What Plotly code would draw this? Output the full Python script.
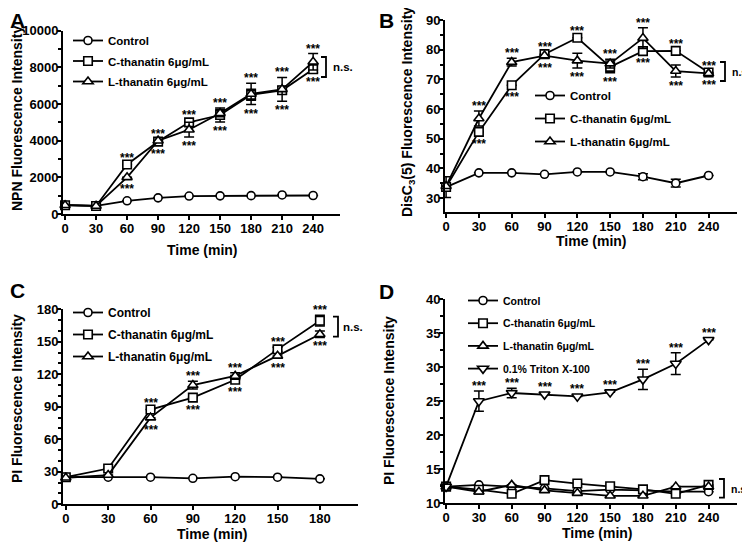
import plotly.graph_objects as go

# ---------------- data ----------------
times9 = [0, 30, 60, 90, 120, 150, 180, 210, 240]
times7 = [0, 30, 60, 90, 120, 150, 180]

# Panel A (NPN)
ctrl_A = [480, 440, 720, 880, 980, 990, 1000, 1040, 1010]
c_A = [480, 440, 2700, 3950, 5000, 5400, 6500, 6750, 7900]
l_A = [480, 440, 2000, 4000, 4600, 5500, 6550, 6800, 8300]
ctrl_A_err = [None] * 9
c_A_err = [None, None, None, None, None, 380, 300, 200, 200]
l_A_err = [None, None, None, None, 400, 200, 580, 650, 450]
stars_A = [60, 90, 120, 150, 180, 210, 240]

# Panel B (DisC3(5))
ctrl_B = [33.7, 38.5, 38.5, 38.0, 38.8, 38.8, 37.2, 35.0, 37.6]
c_B = [33.7, 52.3, 68.0, 78.5, 84.0, 74.2, 79.5, 79.6, 72.3]
l_B = [34.0, 56.8, 75.8, 78.0, 76.3, 75.3, 83.9, 72.8, 72.0]
ctrl_B_err = [3.5, None, None, None, None, None, 1.0, 1.3, None]
c_B_err = [None, None, None, None, None, 2.0, 1.0, None, None]
l_B_err = [None, 2.5, 1.3, None, 2.5, 1.5, 3.5, 2.0, None]
stars_B = [30, 60, 90, 120, 150, 180, 210, 240]

# Panel C (PI, 180 min)
ctrl_C = [25, 25, 25, 24, 25.5, 25, 23.5]
c_C = [25, 33, 87.5, 98.5, 115, 143, 169.5]
l_C = [24.5, 27, 80, 110, 118.5, 137, 157]
ctrl_C_err = [None] * 7
c_C_err = [None, None, None, None, None, 2.0, 5.0]
l_C_err = [None, None, None, 3.5, 3.0, None, 3.0]
stars_C = [60, 90, 120, 150, 180]

# Panel D (PI, 240 min)
ctrl_D = [12.45, 12.7, 12.45, 12.2, 11.8, 12.0, 11.9, 11.7, 11.7]
c_D = [12.45, 12.0, 11.4, 13.4, 12.9, 12.5, 12.05, 11.4, 12.7]
l_D = [12.45, 11.7, 12.7, 11.9, 11.5, 11.1, 11.1, 12.45, 12.45]
tr_D = [12.45, 25.0, 26.2, 26.0, 25.7, 26.3, 28.2, 30.5, 34.0]
ctrl_D_err = [None] * 9
c_D_err = [None] * 9
l_D_err = [None] * 9
tr_D_err = [None, 1.5, 0.7, None, None, None, 1.5, 1.6, None]
stars_D = [30, 60, 90, 120, 150, 180, 210, 240]

names = ["Control", "C-thanatin 6μg/mL", "L-thanatin 6μg/mL", "0.1% Triton X-100"]
symbols = ["circle", "square", "triangle-up", "triangle-down"]
msizes = [8, 8.5, 9, 9.5]

W, H = 750, 551
OX, OY = 8, 8  # page body margin offset of the plot
FONT = "Arial, Liberation Sans, sans-serif"


def px(x):
    return (x - OX) / W


def py(y):
    return 1 - (y - OY) / H


fig = go.Figure()

panels = [
    dict(ax="", t=times9, s=[ctrl_A, c_A, l_A], e=[ctrl_A_err, c_A_err, l_A_err], st=stars_A,
         xd=(63, 340), yd=(214, 30.7), xr=[-2, 266], yr=[0, 10000], dt=2000, mdt=1000,
         leg=dict(x=68, y=26, fs=11.5, gap=1.5)),
    dict(ax="2", t=times9, s=[ctrl_B, c_B, l_B], e=[ctrl_B_err, c_B_err, l_B_err], st=stars_B,
         xd=(445, 737), yd=(212, 20), xr=[-1, 266], yr=[25.3, 90], dt=10, mdt=5,
         leg=dict(x=530, y=81, fs=11.5, gap=4)),
    dict(ax="3", t=times7, s=[ctrl_C, c_C, l_C], e=[ctrl_C_err, c_C_err, l_C_err], st=stars_C,
         xd=(63, 358), yd=(504.3, 309.3), xr=[-2, 207], yr=[0, 180], dt=30, mdt=10,
         leg=dict(x=68, y=298, fs=12, gap=3)),
    dict(ax="4", t=times9, s=[ctrl_D, c_D, l_D, tr_D], e=[ctrl_D_err, c_D_err, l_D_err, tr_D_err],
         st=stars_D,
         xd=(445, 737), yd=(503.3, 299), xr=[-1, 266], yr=[10, 40], dt=5, mdt=2.5,
         leg=dict(x=463, y=286, fs=10.5, gap=3.7)),
]

layout_upd = {}
annotations = []
shapes = []
STAR_FONT = dict(family=FONT, size=12, color="black", weight="bold")

for pi, p in enumerate(panels):
    ax = p["ax"]
    legname = "legend" + ("" if pi == 0 else str(pi + 1))
    for si, (ser, err) in enumerate(zip(p["s"], p["e"])):
        fig.add_trace(go.Scatter(
            x=p["t"], y=ser,
            mode="lines+markers",
            name=names[si],
            line=dict(color="black", width=1.8),
            marker=dict(symbol=symbols[si], size=msizes[si], color="white",
                        line=dict(color="black", width=1.6)),
            error_y=dict(type="data", array=err, visible=True, color="black",
                         thickness=1.5, width=5),
            xaxis="x" + ax, yaxis="y" + ax,
            legend=legname, legendgroup=f"g{pi}_{si}",
            cliponaxis=False,
        ))
    axis_common = dict(showline=True, linecolor="black", linewidth=2,
                       ticks="outside", ticklen=4, tickwidth=2, tickcolor="black",
                       showgrid=False, zeroline=False, automargin=False,
                       tickfont=dict(family=FONT, size=13, color="black", weight="bold"))
    layout_upd["xaxis" + ax] = dict(axis_common, domain=[px(p["xd"][0]), px(p["xd"][1])],
                                    range=p["xr"], tickmode="array", tickvals=p["t"],
                                    anchor="y" + ax, ticklabelstandoff=-3)
    layout_upd["yaxis" + ax] = dict(axis_common, domain=[py(p["yd"][0]), py(p["yd"][1])],
                                    range=p["yr"], dtick=p["dt"], tick0=0, tickformat="d",
                                    anchor="x" + ax, ticklabelstandoff=-4,
                                    minor=dict(ticks="outside", ticklen=3, tickwidth=2,
                                               tickcolor="black", dtick=p["mdt"]))
    lg = p["leg"]
    layout_upd[legname] = dict(x=px(lg["x"]), y=py(lg["y"]), xanchor="left", yanchor="top",
                               bgcolor="rgba(0,0,0,0)", borderwidth=0,
                               tracegroupgap=lg["gap"],
                               font=dict(family=FONT, size=lg["fs"], color="black", weight="bold"))

    # significance stars
    xref, yref = "x" + ax, "y" + ax
    treated = [3] if pi == 3 else list(range(1, len(p["s"])))
    for ti, t in enumerate(p["t"]):
        if t not in p["st"]:
            continue
        tops = [p["s"][k][ti] + (p["e"][k][ti] or 0) for k in treated]
        bots = [p["s"][k][ti] - (p["e"][k][ti] or 0) for k in treated]
        kt = treated[tops.index(max(tops))]
        has_err_t = p["e"][kt][ti] is not None
        annotations.append(dict(x=t, y=max(tops), xref=xref, yref=yref, text="***",
                                showarrow=False, yanchor="middle", yshift=5 if has_err_t else 7,
                                font=STAR_FONT))
        if pi != 3:
            kb = treated[bots.index(min(bots))]
            has_err_b = p["e"][kb][ti] is not None
            annotations.append(dict(x=t, y=min(bots), xref=xref, yref=yref, text="***",
                                    showarrow=False, yanchor="middle",
                                    yshift=-9 if has_err_b else -12,
                                    font=STAR_FONT))

# n.s. brackets (annotation graphics in pixel positions)
brackets = [(326, 57, 77, 331, 67, 11.5), (725, 62, 81, 730, 72, 10.5),
            (338, 316.7, 336.7, 341, 327, 11.5), (724, 479, 497.7, 729, 489, 10.5)]
for (bx, y0, y1, tx, ty, fs) in brackets:
    shapes.append(dict(type="path", xref="paper", yref="paper",
                       path=f"M {px(bx-5)},{py(y0)} L {px(bx)},{py(y0)} L {px(bx)},{py(y1)} L {px(bx-5)},{py(y1)}",
                       line=dict(color="black", width=1.8)))
    annotations.append(dict(x=px(tx), y=py(ty), xref="paper", yref="paper", text="n.s.",
                            showarrow=False, xanchor="left", yanchor="middle",
                            font=dict(family=FONT, size=fs, color="black", weight="bold")))

# panel letters
for (lx, ly, letter) in [(8, 20, "A"), (377, 20, "B"), (8, 290, "C"), (377, 291, "D")]:
    annotations.append(dict(x=px(lx), y=py(ly), xref="paper", yref="paper", text=letter,
                            showarrow=False, xanchor="left", yanchor="middle",
                            font=dict(family=FONT, size=21, color="black", weight="bold")))

# axis titles
xt = [(202, 250), (591, 241), (212, 534), (597, 533)]
for (cx, cy) in xt:
    annotations.append(dict(x=px(cx), y=py(cy), xref="paper", yref="paper", text="Time (min)",
                            showarrow=False, xanchor="center", yanchor="middle",
                            font=dict(family=FONT, size=14, color="black", weight="bold")))
yt = [(17, 119, "NPN Fluorescence Intensity"),
      (408, 112, "DisC<sub>3</sub>(5) Fluorescence Intensity"),
      (17, 399, "PI Fluorescence Intensity"),
      (389, 401, "PI Fluorescence Intensity")]
for (cx, cy, txt) in yt:
    annotations.append(dict(x=px(cx), y=py(cy), xref="paper", yref="paper", text=txt,
                            showarrow=False, xanchor="center", yanchor="middle", textangle=-90,
                            font=dict(family=FONT, size=14, color="black", weight="bold")))

fig.update_layout(
    width=W, height=H,
    margin=dict(l=0, r=0, t=0, b=0, pad=0),
    paper_bgcolor="white", plot_bgcolor="white",
    showlegend=True,
    annotations=annotations, shapes=shapes,
    **layout_upd,
)

fig.write_html("out.html")
